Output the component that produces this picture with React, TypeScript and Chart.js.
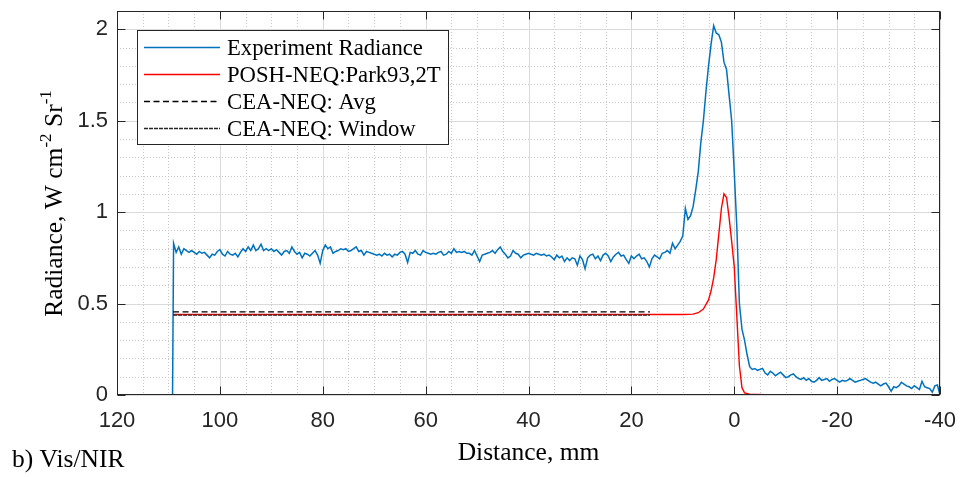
import React, { useEffect, useRef } from "react";
import { Chart, registerables } from "chart.js";

Chart.register(...registerables);

// ---------- axes ----------
const X_MIN = -40;
const X_MAX = 120;
const Y_MIN = 0;
const Y_MAX = 2.1;
const X_TICKS = [120, 100, 80, 60, 40, 20, 0, -20, -40];
const Y_TICKS = [0, 0.5, 1, 1.5, 2];
const X_MINOR_STEP = 5;
const Y_MINOR_STEP = 0.1;

const X_TITLE = "Distance, mm";
const Y_TITLE_PARTS = [
  { text: "Radiance, W cm", sup: false },
  { text: "-2", sup: true },
  { text: " Sr", sup: false },
  { text: "-1", sup: true },
];
const PANEL_LABEL = "b) Vis/NIR";

const SERIES_LABELS = [
  "Experiment Radiance",
  "POSH-NEQ:Park93,2T",
  "CEA-NEQ: Avg",
  "CEA-NEQ: Window",
];

// ---------- data ----------
// Experiment: zero lead-in, then samples every EXP_STEP mm from EXP_START
const expLeadDistance = [112.2, 109.2];
const expLeadRadiance = [0, 0];
const EXP_START = 109;
const EXP_STEP = 0.5;
const expRadiance = [
  0.83, 0.78, 0.81, 0.77, 0.80, 0.79, 0.78, 0.79, 0.78, 0.77, // 109 .. 104.5
  0.785, 0.775, 0.78, 0.765, 0.75, 0.77, 0.765, 0.785, 0.795, 0.77, // 104 .. 99.5
  0.76, 0.785, 0.77, 0.765, 0.775, 0.755, 0.78, 0.80, 0.785, 0.81, // 99 .. 94.5
  0.79, 0.82, 0.79, 0.80, 0.825, 0.79, 0.80, 0.79, 0.80, 0.785, // 94 .. 89.5
  0.795, 0.78, 0.765, 0.785, 0.79, 0.775, 0.81, 0.785, 0.77, 0.78, // 89 .. 84.5
  0.75, 0.775, 0.77, 0.76, 0.775, 0.79, 0.765, 0.72, 0.79, 0.82, // 84 .. 79.5
  0.80, 0.81, 0.775, 0.785, 0.79, 0.80, 0.795, 0.80, 0.785, 0.79, // 79 .. 74.5
  0.80, 0.81, 0.785, 0.79, 0.765, 0.785, 0.78, 0.775, 0.77, 0.765, // 74 .. 69.5
  0.77, 0.76, 0.775, 0.765, 0.77, 0.755, 0.77, 0.765, 0.78, 0.785, // 69 .. 64.5
  0.77, 0.725, 0.78, 0.775, 0.79, 0.77, 0.765, 0.79, 0.78, 0.775, // 64 .. 59.5
  0.77, 0.775, 0.77, 0.78, 0.785, 0.765, 0.77, 0.785, 0.775, 0.80, // 59 .. 54.5
  0.78, 0.785, 0.78, 0.785, 0.775, 0.775, 0.765, 0.79, 0.76, 0.73, // 54 .. 49.5
  0.765, 0.77, 0.775, 0.78, 0.79, 0.775, 0.795, 0.81, 0.785, 0.77, // 49 .. 44.5
  0.75, 0.76, 0.79, 0.775, 0.77, 0.75, 0.765, 0.77, 0.775, 0.77, // 44 .. 39.5
  0.765, 0.775, 0.77, 0.765, 0.77, 0.76, 0.765, 0.755, 0.74, 0.765, // 39 .. 34.5
  0.75, 0.76, 0.73, 0.75, 0.735, 0.75, 0.745, 0.71, 0.76, 0.74, // 34 .. 29.5
  0.69, 0.75, 0.765, 0.77, 0.745, 0.76, 0.735, 0.765, 0.775, 0.76, // 29 .. 24.5
  0.73, 0.755, 0.77, 0.78, 0.76, 0.765, 0.74, 0.72, 0.76, 0.745, // 24 .. 19.5
  0.76, 0.77, 0.745, 0.75, 0.73, 0.70, 0.745, 0.765, 0.755, 0.745, // 19 .. 14.5
  0.775, 0.78, 0.79, 0.775, 0.83, 0.80, 0.82, 0.84, 0.87, 1.02, // 14 .. 9.5
  0.96, 0.98, 1.03, 1.12, 1.22, 1.38, 1.50, 1.66, 1.80, 1.92, // 9 .. 4.5
  2.02, 1.98, 1.97, 1.93, 1.82, 1.78, 1.64, 1.50, 1.22, 0.92, // 4 .. -0.5
  0.50, 0.36, 0.30, 0.22, 0.155, 0.14, 0.145, 0.135, 0.14, 0.145, // -1 .. -5.5
  0.12, 0.11, 0.13, 0.12, 0.105, 0.115, 0.125, 0.11, 0.095, 0.10, // -6 .. -10.5
  0.11, 0.115, 0.10, 0.09, 0.085, 0.095, 0.08, 0.09, 0.075, 0.07, // -11 .. -15.5
  0.08, 0.095, 0.08, 0.085, 0.09, 0.075, 0.085, 0.09, 0.08, 0.07, // -16 .. -20.5
  0.08, 0.075, 0.08, 0.09, 0.08, 0.07, 0.075, 0.08, 0.085, 0.09, // -21 .. -25.5
  0.08, 0.07, 0.065, 0.07, 0.06, 0.05, 0.06, 0.065, 0.045, 0.02, // -26 .. -30.5
  0.045, 0.04, 0.05, 0.07, 0.06, 0.05, 0.045, 0.035, 0.05, 0.04, // -31 .. -35.5
  0.03, 0.075, 0.045, 0.04, 0.035, 0.015, 0.05, 0.055, 0.0, // -36 .. -40
];

const poshDistance = [109.1, 16, 10, 8, 7, 6, 5, 4.5, 4, 3.5, 3, 2.5, 2, 1.5, 1, 0.5, 0, -0.5, -1, -1.5, -2, -3, -6, -19];
const poshRadiance = [0.44, 0.44, 0.44, 0.442, 0.45, 0.47, 0.52, 0.57, 0.64, 0.74, 0.88, 1.02, 1.10, 1.08, 0.97, 0.84, 0.70, 0.43, 0.16, 0.04, 0.012, 0.005, 0.002, 0.0];

const avgDistance = [109.1, 16.4];
const avgRadiance = [0.455, 0.455];

const windowDistance = [109.1, 16.4];
const windowRadiance = [0.437, 0.437];

// ---------- styles ----------
const SERIF = '"Liberation Serif", "Times New Roman", serif';
const SANS = '"Liberation Sans", Arial, Helvetica, sans-serif';
const AXIS_COLOR = "#262626";
const COLORS = ["#0072BD", "#FF0000", "#000000", "#262626"];
const WIDTHS = [1.5, 1.4, 1.3, 1.3];
const DASHES: number[][] = [[], [], [6, 3.5], [4, 1]];

function toPoints(xs: number[], ys: number[]) {
  return xs.map((x, i) => ({ x, y: ys[i] }));
}

function experimentPoints() {
  const pts = toPoints(expLeadDistance, expLeadRadiance);
  expRadiance.forEach((r, i) => pts.push({ x: EXP_START - i * EXP_STEP, y: r }));
  return pts;
}

const framePlugin = {
  id: "matlabFrame",
  beforeDatasetsDraw(chart: any) {
    const { ctx, chartArea: a, scales } = chart;
    const xs = scales.x;
    const ys = scales.y;
    ctx.save();
    ctx.lineWidth = 1;
    // minor grid (dotted)
    ctx.strokeStyle = "#c6c6c6";
    ctx.setLineDash([1, 2]);
    const nx = Math.round((X_MAX - X_MIN) / X_MINOR_STEP);
    for (let k = 0; k <= nx; k++) {
      const v = X_MIN + k * X_MINOR_STEP;
      if (X_TICKS.some((t) => Math.abs(t - v) < 1e-9)) continue;
      const px = Math.round(xs.getPixelForValue(v)) + 0.5;
      ctx.beginPath();
      ctx.moveTo(px, a.top);
      ctx.lineTo(px, a.bottom);
      ctx.stroke();
    }
    const ny = Math.round((Y_MAX - Y_MIN) / Y_MINOR_STEP);
    for (let k = 0; k <= ny; k++) {
      const v = Y_MIN + k * Y_MINOR_STEP;
      if (Y_TICKS.some((t) => Math.abs(t - v) < 1e-9)) continue;
      const py = Math.round(ys.getPixelForValue(v)) + 0.5;
      ctx.beginPath();
      ctx.moveTo(a.left, py);
      ctx.lineTo(a.right, py);
      ctx.stroke();
    }
    // major grid (solid)
    ctx.setLineDash([]);
    ctx.strokeStyle = "#dadada";
    X_TICKS.forEach((v) => {
      const px = Math.round(xs.getPixelForValue(v)) + 0.5;
      ctx.beginPath();
      ctx.moveTo(px, a.top);
      ctx.lineTo(px, a.bottom);
      ctx.stroke();
    });
    Y_TICKS.forEach((v) => {
      const py = Math.round(ys.getPixelForValue(v)) + 0.5;
      ctx.beginPath();
      ctx.moveTo(a.left, py);
      ctx.lineTo(a.right, py);
      ctx.stroke();
    });
    ctx.restore();
  },
  afterDatasetsDraw(chart: any) {
    const { ctx, chartArea: a, scales } = chart;
    const xs = scales.x;
    const ys = scales.y;
    ctx.save();
    // box
    ctx.strokeStyle = AXIS_COLOR;
    ctx.lineWidth = 1;
    ctx.setLineDash([]);
    const L = Math.round(a.left) + 0.5;
    const R = Math.round(a.right) - 0.5;
    const T = Math.round(a.top) + 0.5;
    const B = Math.round(a.bottom) - 0.5;
    ctx.strokeRect(L, T, R - L, B - T);
    // inward ticks
    const TL = 8;
    ctx.beginPath();
    X_TICKS.forEach((v) => {
      const px = Math.round(xs.getPixelForValue(v)) + 0.5;
      ctx.moveTo(px, B);
      ctx.lineTo(px, B - TL);
      ctx.moveTo(px, T);
      ctx.lineTo(px, T + TL);
    });
    Y_TICKS.forEach((v) => {
      const py = Math.round(ys.getPixelForValue(v)) + 0.5;
      ctx.moveTo(L, py);
      ctx.lineTo(L + TL, py);
      ctx.moveTo(R, py);
      ctx.lineTo(R - TL, py);
    });
    ctx.stroke();

    // legend
    const datasets = chart.data.datasets;
    ctx.font = `22.7px ${SERIF}`;
    let maxW = 0;
    datasets.forEach((d: any) => {
      maxW = Math.max(maxW, ctx.measureText(d.label).width);
    });
    const boxL = a.left + 20;
    const boxT = a.top + 19;
    const padX = 7;
    const lineLen = 76;
    const gap = 7;
    const rowH = 27;
    const padY = 16.5;
    const boxW = padX + lineLen + gap + maxW + padX;
    const boxH = padY * 2 + rowH * (datasets.length - 1);
    ctx.fillStyle = "#ffffff";
    ctx.fillRect(boxL, boxT, boxW, boxH);
    ctx.strokeStyle = AXIS_COLOR;
    ctx.lineWidth = 1;
    ctx.strokeRect(Math.round(boxL) + 0.5, Math.round(boxT) + 0.5, Math.round(boxW), Math.round(boxH));
    datasets.forEach((d: any, i: number) => {
      const cy = Math.round(boxT + padY + i * rowH) + 0.5;
      ctx.strokeStyle = d.borderColor;
      ctx.lineWidth = d.borderWidth;
      ctx.setLineDash(d.borderDash || []);
      ctx.beginPath();
      ctx.moveTo(boxL + padX, cy);
      ctx.lineTo(boxL + padX + lineLen, cy);
      ctx.stroke();
      ctx.setLineDash([]);
      ctx.fillStyle = "#000000";
      ctx.textAlign = "left";
      ctx.textBaseline = "alphabetic";
      ctx.fillText(d.label, boxL + padX + lineLen + gap, cy + 7.5);
    });

    // x title
    ctx.fillStyle = "#000000";
    ctx.font = `25.5px ${SERIF}`;
    ctx.textAlign = "center";
    ctx.textBaseline = "alphabetic";
    ctx.fillText(X_TITLE, (a.left + a.right) / 2, 460);

    // panel label
    ctx.textAlign = "left";
    ctx.fillText(PANEL_LABEL, 12, 467);

    // y title with superscripts
    const mainFont = `25.5px ${SERIF}`;
    const supFont = `17px ${SERIF}`;
    let total = 0;
    const widths = Y_TITLE_PARTS.map((p) => {
      ctx.font = p.sup ? supFont : mainFont;
      const w = ctx.measureText(p.text).width;
      total += w;
      return w;
    });
    ctx.translate(62, 203.5 + total / 2);
    ctx.rotate(-Math.PI / 2);
    let pos = 0;
    Y_TITLE_PARTS.forEach((p, i) => {
      ctx.font = p.sup ? supFont : mainFont;
      ctx.fillText(p.text, pos, p.sup ? -11 : 0);
      pos += widths[i];
    });
    ctx.restore();
  },
};

export default function App() {
  const canvasRef = useRef<HTMLCanvasElement | null>(null);

  useEffect(() => {
    const canvas = canvasRef.current;
    if (!canvas) return;
    const seriesData = [
      experimentPoints(),
      toPoints(poshDistance, poshRadiance),
      toPoints(avgDistance, avgRadiance),
      toPoints(windowDistance, windowRadiance),
    ];
    const chart = new Chart(canvas, {
      type: "line",
      data: {
        datasets: SERIES_LABELS.map((label, i) => ({
          label,
          data: seriesData[i],
          borderColor: COLORS[i],
          backgroundColor: COLORS[i],
          borderWidth: WIDTHS[i],
          borderDash: DASHES[i],
          pointRadius: 0,
          tension: 0,
          fill: false,
          order: 4 - i,
        })),
      },
      options: {
        responsive: false,
        animation: false,
        events: [],
        layout: { padding: { top: 11, right: 22, left: 0, bottom: 0 } },
        plugins: {
          legend: { display: false },
          tooltip: { enabled: false },
          title: { display: false },
        },
        scales: {
          x: {
            type: "linear",
            min: X_MIN,
            max: X_MAX,
            reverse: true,
            afterBuildTicks: (s: any) => {
              s.ticks = X_TICKS.map((v) => ({ value: v }));
            },
            afterFit: (s: any) => {
              s.height = 82;
              s.paddingLeft = 0;
              s.paddingRight = 0;
              s.paddingTop = 0;
              s.paddingBottom = 0;
            },
            grid: { display: false, drawTicks: false },
            border: { display: false },
            ticks: {
              autoSkip: false,
              maxRotation: 0,
              padding: 13,
              color: AXIS_COLOR,
              font: { family: SANS, size: 22 },
              callback: (v: any) => String(v),
            },
          },
          y: {
            type: "linear",
            min: Y_MIN,
            max: Y_MAX,
            afterBuildTicks: (s: any) => {
              s.ticks = Y_TICKS.map((v) => ({ value: v }));
            },
            afterFit: (s: any) => {
              s.width = 117;
              s.paddingLeft = 0;
              s.paddingRight = 0;
              s.paddingTop = 0;
              s.paddingBottom = 0;
            },
            grid: { display: false, drawTicks: false },
            border: { display: false },
            ticks: {
              padding: 9,
              color: AXIS_COLOR,
              font: { family: SANS, size: 22 },
              callback: (v: any) => String(v),
            },
          },
        },
      },
      plugins: [framePlugin],
    } as any);
    return () => chart.destroy();
  }, []);

  return (
    <div style={{ position: "absolute", left: 0, top: 0, width: 962, height: 477, background: "#ffffff" }}>
      <canvas ref={canvasRef} width={962} height={477} style={{ display: "block" }} />
    </div>
  );
}
